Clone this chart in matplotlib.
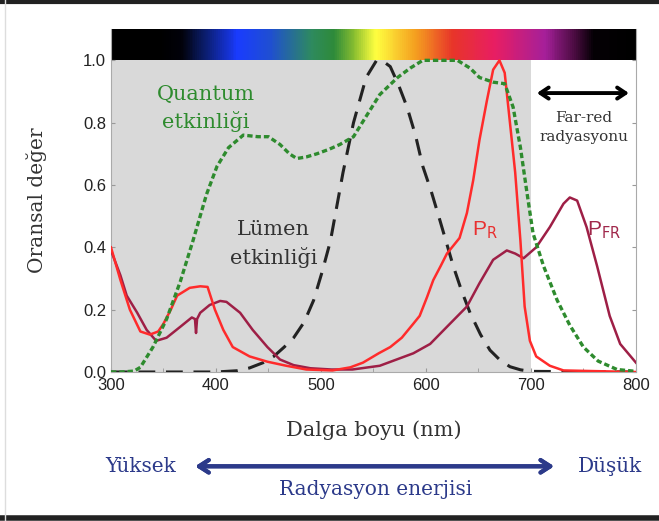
import numpy as np
import matplotlib.pyplot as plt
from matplotlib.colors import LinearSegmentedColormap
from matplotlib.lines import Line2D

# quantum efficiency (green dotted)
q_wl = [300, 310, 322, 328, 340, 353, 366, 378, 391, 401, 412, 426, 440, 450, 461, 470,
        477, 486, 496, 508, 518, 531, 543, 556, 573, 585, 597, 615, 630, 642, 651, 664,
        675, 683, 690, 696, 702, 712, 725, 737, 750, 764, 782, 800]
q_val = [0.0, 0.0, 0.003, 0.015, 0.08, 0.17, 0.29, 0.42, 0.57, 0.66, 0.72, 0.76, 0.755,
         0.755, 0.73, 0.70, 0.685, 0.69, 0.70, 0.715, 0.73, 0.755, 0.82, 0.89, 0.945,
         0.975, 1.0, 1.0, 1.0, 0.975, 0.945, 0.93, 0.925, 0.85, 0.72, 0.58, 0.445, 0.34,
         0.23, 0.15, 0.08, 0.035, 0.008, 0.002]

# lumen efficiency (black dashed)
l_wl = [300, 400, 420, 432, 445, 455, 465, 474, 484, 493, 501, 509, 515, 521, 531, 543,
        553, 560, 566, 574, 582, 590, 597, 605, 613, 626, 634, 642, 652, 661, 670, 680,
        690, 700, 800]
l_val = [0.0, 0.0, 0.004, 0.013, 0.03, 0.05, 0.08, 0.11, 0.16, 0.23, 0.32, 0.42, 0.53,
         0.64, 0.80, 0.945, 1.0, 0.995, 0.98, 0.92, 0.85, 0.76, 0.66, 0.58, 0.49, 0.34,
         0.26, 0.19, 0.12, 0.07, 0.04, 0.017, 0.007, 0.002, 0.0]

# P_R absorption (red)
r_wl = [300, 309, 318, 328, 337, 345, 350, 357, 363, 375, 385, 392, 399, 407, 416, 432,
        449, 467, 486, 511, 528, 540, 555, 566, 577, 588, 594, 601, 607, 614, 620, 632,
        639, 645, 651, 658, 664, 670, 675, 680, 685, 690, 694, 699, 705, 718, 731, 800]
r_val = [0.40, 0.295, 0.20, 0.13, 0.12, 0.13, 0.155, 0.20, 0.245, 0.27, 0.275, 0.273,
         0.20, 0.135, 0.08, 0.05, 0.033, 0.02, 0.008, 0.005, 0.015, 0.03, 0.06, 0.08,
         0.11, 0.155, 0.18, 0.24, 0.295, 0.34, 0.38, 0.43, 0.51, 0.615, 0.745, 0.87,
         0.97, 1.0, 0.96, 0.80, 0.64, 0.42, 0.21, 0.10, 0.05, 0.02, 0.005, 0.0]

# P_FR absorption (dark red)
fr_wl = [300, 309, 315, 325, 334, 343, 353, 366, 377, 380, 381, 382, 385, 394, 404, 410,
         423, 435, 449, 461, 474, 490, 510, 530, 556, 572, 588, 604, 620, 639, 651, 664,
         677, 685, 693, 705, 718, 731, 737, 744, 753, 763, 775, 785, 800]
fr_val = [0.39, 0.31, 0.245, 0.19, 0.135, 0.10, 0.11, 0.145, 0.175, 0.17, 0.125, 0.17,
          0.19, 0.215, 0.228, 0.225, 0.19, 0.135, 0.08, 0.04, 0.022, 0.012, 0.008,
          0.008, 0.02, 0.04, 0.06, 0.09, 0.145, 0.21, 0.285, 0.36, 0.39, 0.38, 0.365,
          0.40, 0.465, 0.54, 0.56, 0.55, 0.465, 0.34, 0.18, 0.09, 0.03]

# spectrum bar colours
spec_wl = [300, 345, 366, 386, 420, 452, 490, 512, 532, 552, 590, 626, 666, 714, 743, 760, 800]
spec_col = ['#000000', '#000000', '#02020a', '#0a1a60', '#1a3cff', '#2050d0', '#2e8a60',
            '#2e8b3a', '#8cc030', '#ffff40', '#f5a020', '#e8352a', '#e81e63', '#a6209a',
            '#4a0c40', '#050005', '#000000']

serif = 'DejaVu Serif'

fig = plt.figure(figsize=(6.59, 5.21), dpi=100)
ax = fig.add_axes([0.1684, 0.286, 0.7966, 0.658])

ax.set_xlim(300, 800)
ax.set_ylim(0, 1.1)

# grey region and spectrum
ax.fill_between([300, 700], 0, 1.0, color='#d9d9d9', zorder=0, lw=0)
pos = [(w - 300) / 500 for w in spec_wl]
cmap = LinearSegmentedColormap.from_list('spec', list(zip(pos, spec_col)))
grad = np.linspace(0, 1, 500).reshape(1, -1)
ax.imshow(grad, cmap=cmap, aspect='auto', extent=[300, 800, 1.0, 1.1], zorder=1)

ax.plot(l_wl, l_val, color='#222222', lw=2.2, dashes=(5.5, 3.5), zorder=3)
ax.plot(fr_wl, fr_val, color='#9e1f46', lw=1.8, zorder=4)
ax.plot(r_wl, r_val, color='#ff2b2b', lw=1.8, zorder=5)
ax.plot(q_wl, q_val, color='#2e8b2e', lw=2.4, dashes=(1.6, 0.9), zorder=6)

ax.set_xticks([300, 400, 500, 600, 700, 800])
ax.set_xticks(np.arange(350, 800, 100), minor=True)
ax.set_yticks([0.0, 0.2, 0.4, 0.6, 0.8, 1.0])
ax.set_yticklabels(['0.0', '0.2', '0.4', '0.6', '0.8', '1.0'])
ax.tick_params(axis='both', which='both', direction='in', length=3, color='#999999',
               labelsize=12, labelcolor='#222222', right=True)
ax.tick_params(axis='x', pad=4)
for lab in ax.get_xticklabels() + ax.get_yticklabels():
    lab.set_family('Liberation Sans')
for s in ['left', 'bottom', 'right']:
    ax.spines[s].set_color('#aaaaaa')
    ax.spines[s].set_linewidth(0.8)
ax.spines['top'].set_visible(False)

ax.set_xlabel('Dalga boyu (nm)', family=serif, fontsize=15, color='#333333', labelpad=20)
ax.set_ylabel('Oransal değer', family=serif, fontsize=14.5, color='#333333', labelpad=26)

ax.text(390, 0.845, 'Quantum\netkinliği', family=serif, fontsize=15, color='#2e8b2e',
        ha='center', va='center', linespacing=1.45, zorder=7)
ax.text(455, 0.41, 'Lümen\netkinliği', family=serif, fontsize=15, color='#333333',
        ha='center', va='center', linespacing=1.45, zorder=7)
ax.text(656, 0.455, r'P$_{\mathrm{R}}$', family='Liberation Sans', fontsize=15,
        color='#e83030', ha='center', va='center', zorder=7)
ax.text(770, 0.455, r'P$_{\mathrm{FR}}$', family='Liberation Sans', fontsize=15,
        color='#a0284b', ha='center', va='center', zorder=7)

ax.annotate('', xy=(796, 0.895), xytext=(703, 0.895),
            arrowprops=dict(arrowstyle='<->,head_length=0.6,head_width=0.4', lw=2.8,
                            color='black'), zorder=7)
ax.text(750, 0.785, 'Far-red\nradyasyonu', family=serif, fontsize=11, color='#333333',
        ha='center', va='center', linespacing=1.4, zorder=7)

# energy arrow below the axes
navy = '#2c3a8a'
fig.text(0.213, 0.105, 'Yüksek', family=serif, fontsize=14.5, color=navy, ha='center', va='center')
fig.text(0.925, 0.105, 'Düşük', family=serif, fontsize=14.5, color=navy, ha='center', va='center')
fig.text(0.57, 0.06, 'Radyasyon enerjisi', family=serif, fontsize=14.5, color=navy,
         ha='center', va='center')
fig.add_artist(plt.annotate('', xy=(0.845, 0.105), xytext=(0.292, 0.105),
                            xycoords='figure fraction',
                            arrowprops=dict(arrowstyle='<->,head_length=0.7,head_width=0.45',
                                            lw=3, color=navy)))

# frame lines of the original picture
fig.add_artist(Line2D([0, 1], [0.997, 0.997], color='#222222', lw=3, transform=fig.transFigure))
fig.add_artist(Line2D([0, 1], [0.006, 0.006], color='#222222', lw=4, transform=fig.transFigure))
fig.add_artist(Line2D([0.008, 0.008], [0, 1], color='#dddddd', lw=1, transform=fig.transFigure))

fig.savefig('out.png', dpi=100)
